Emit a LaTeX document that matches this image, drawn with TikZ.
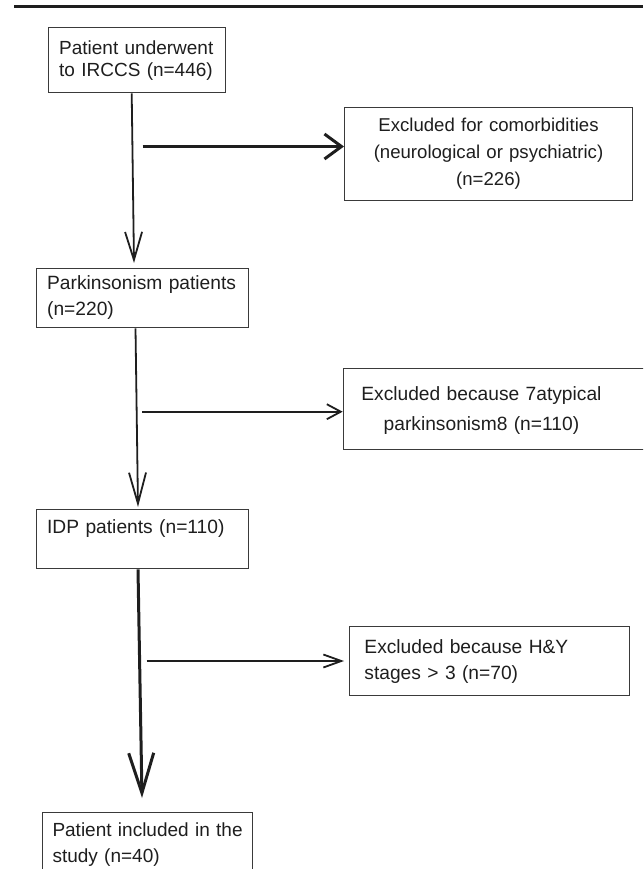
\documentclass[tikz,border=0pt]{standalone}
\usepackage{fontspec}
\setmainfont{Liberation Sans}
\usetikzlibrary{arrows.meta}
\definecolor{boxline}{HTML}{3A3A3A}
\definecolor{ink}{HTML}{1E1E1E}
\tikzstyle{stage} = [
  draw=boxline,
  rectangle,
  line width=1.3pt,
  anchor=north west,
  align=left,
  inner xsep=10.5pt,
  inner ysep=0pt,
  text=ink,
  font=\fontsize{19.2}{26}\selectfont,
]
\tikzstyle{excluded} = [
  stage,
  align=center,
]
\tikzstyle{flow} = [
  draw=ink,
  line width=1.8pt,
]
\tikzstyle{boldflow} = [
  flow,
  line width=3pt,
]

\begin{document}
\begin{tikzpicture}[
    x=1pt,
    y=-1pt,
  ]
  \useasboundingbox (0,0) rectangle (643,869);
  \clip (0,0) rectangle (643,869);
  % rule on top of the page
  \draw[ink, line width=3pt] (14,6.5) -- (643,6.5);
  % main column
  \node[
    stage,
    minimum width=177pt,
    minimum height=65pt,
    text width=156pt,
    font=\fontsize{19}{22}\selectfont,
  ](admitted) at (48,27) {\mbox{Patient underwent}\\to IRCCS (n=446)};
  \node[
    stage,
    minimum width=211.7pt,
    minimum height=59.3pt,
    text width=190.7pt,
  ](parkin) at (36,267.7) {\mbox{Parkinsonism patients}\\(n=220)};
  \node[
    stage,
    minimum width=211.7pt,
    minimum height=59pt,
    text width=190.7pt,
  ](idp) at (36,509) {IDP patients (n=110)\\\mbox{}};
  \node[
    stage,
    minimum width=210.3pt,
    minimum height=64pt,
    text width=190pt,
    inner xsep=10pt,
    font=\fontsize{19}{26}\selectfont,
  ](included) at (41.7,811.7) {\mbox{Patient included in the}\\study (n=40)};
  % excluded side
  \node[
    excluded,
    minimum width=287.7pt,
    minimum height=93pt,
    text width=266.7pt,
    font=\fontsize{18.6}{27}\selectfont,
  ](comorbid) at (344,107) {Excluded for comorbidities\\(neurological or psychiatric)\\(n=226)};
  \node[
    stage,
    minimum width=320pt,
    minimum height=81pt,
    text width=284pt,
    inner xsep=18pt,
    font=\fontsize{19.2}{30}\selectfont,
  ](atypical) at (342.7,368) {\begin{tabular}{@{}c@{}}Excluded because 7atypical\\parkinsonism8 (n=110)\end{tabular}\\[6pt]};
  \node[
    stage,
    minimum width=280pt,
    minimum height=69pt,
    text width=250.4pt,
    inner xsep=14.8pt,
  ](hoehn) at (349,626) {Excluded because H\&Y\\stages > 3 (n=70)};
  % free ends of the side arrows
  \coordinate (outA) at (142.5,146.5);
  \coordinate (outB) at (142.4,411.7);
  \coordinate (outC) at (146.5,661);
  % arrows
  \draw[flow, -{Straight Barb[length=28pt, width=17pt]}]
    ([xshift=83.7pt]admitted.south west) -- ([xshift=98pt, yshift=4.7pt]parkin.north west);
  \draw[flow, -{Straight Barb[length=31pt, width=17pt]}]
    ([xshift=99.5pt]parkin.south west) -- ([xshift=102pt, yshift=2pt]idp.north west);
  \draw[boldflow, -{Straight Barb[length=40pt, width=25pt]}]
    ([xshift=102pt]idp.south west) -- ([xshift=100.3pt, yshift=13.7pt]included.north west);
  \draw[boldflow, -{Straight Barb[length=17pt, width=25pt]}]
    (outA) -- (comorbid.west |- outA);
  \draw[flow, -{Straight Barb[length=14pt, width=15pt]}]
    (outB) -- (atypical.west |- outB);
  \draw[flow, -{Straight Barb[length=18pt, width=13pt]}]
    (outC) -- ([xshift=-5pt]hoehn.west |- outC);
\end{tikzpicture}
\end{document}
